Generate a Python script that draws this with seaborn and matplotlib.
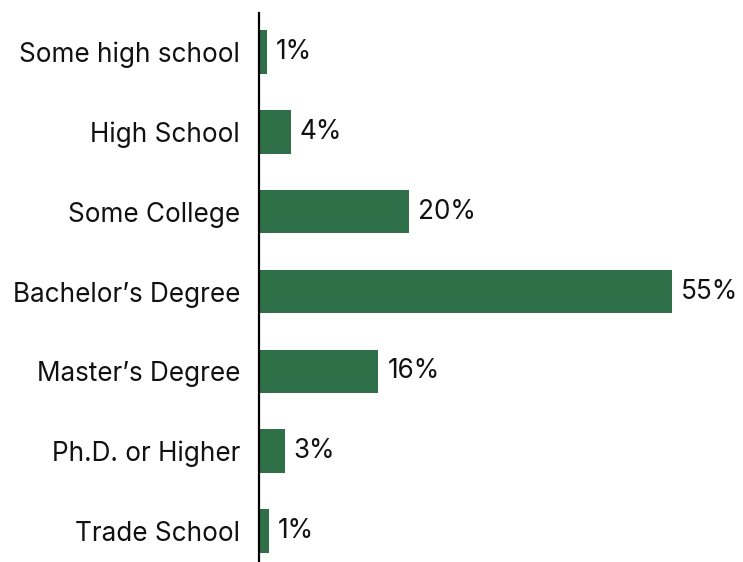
import matplotlib
matplotlib.use("Agg")
import matplotlib.pyplot as plt
import seaborn as sns
import pandas as pd

# Education levels and share of respondents (%)
categories = [
    "Some high school",
    "High School",
    "Some College",
    "Bachelor\u2019s Degree",
    "Master\u2019s Degree",
    "Ph.D. or Higher",
    "Trade School",
]
shares = [1.0, 4.2, 20.0, 55.0, 15.9, 3.4, 1.3]

bar_color = "#2f7048"
text_size = 18.8

sns.set_theme(style="white")
plt.rcParams["font.family"] = ["Inter", "DejaVu Sans"]

df = pd.DataFrame({"level": categories, "share": shares})

W, H, DPI = 743, 562, 100
fig = plt.figure(figsize=(W / DPI, H / DPI), dpi=DPI)
ax = fig.add_axes([259 / W, 0, (W - 259) / W, (H - 13) / H])

sns.barplot(data=df, x="share", y="level", orient="h", color=bar_color,
            saturation=1, width=0.545, linewidth=0, ax=ax)

ax.set_xlim(0, (W - 259) / 7.51)
ax.set_ylim(6.388, -0.4885)

for i, v in enumerate(shares):
    ax.annotate(f"{v:.0f}%", xy=(v, i), xytext=(6.5, 0), textcoords="offset points",
                ha="left", va="center", fontsize=text_size, color="#111111")

ax.set_xlabel("")
ax.set_ylabel("")
ax.set_xticks([])
ax.tick_params(axis="y", length=0, pad=13.5, labelsize=text_size, labelcolor="#111111")
for side in ["top", "right", "bottom"]:
    ax.spines[side].set_visible(False)
ax.spines["left"].set_color("black")
ax.spines["left"].set_linewidth(1.6)

fig.savefig("out.png", dpi=DPI, facecolor="white")
